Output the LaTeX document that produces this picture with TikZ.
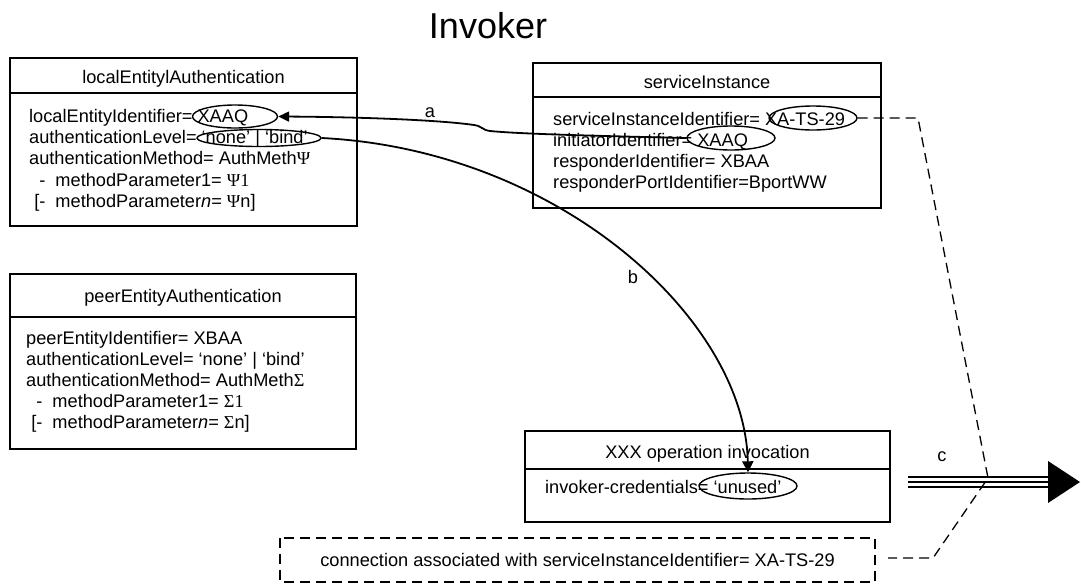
\documentclass[tikz,border=0pt]{standalone}
\usepackage{fontspec}
\setmainfont{Liberation Sans}
\newfontfamily\symfont{Liberation Serif}
\usetikzlibrary{arrows.meta,shapes.geometric}
\begin{document}
\begin{tikzpicture}[x=1pt,y=-1pt,
  txt/.style={anchor=base west,inner sep=0pt,font=\fontsize{18.2}{21.3}\selectfont},
  ttl/.style={anchor=base,inner sep=0pt,font=\fontsize{18.2}{21.3}\selectfont},
  boxline/.style={draw=black,line width=1.8pt},
  oval/.style={draw=black,line width=1.4pt,ellipse,inner sep=0pt},
  conn/.style={draw=black,line width=1.8pt},
  dashln/.style={draw=black,line width=1.3pt,dash pattern=on 10pt off 6pt},
  lbl/.style={inner sep=0pt,font=\fontsize{18.2}{21.3}\selectfont}
]
\useasboundingbox (0,0) rectangle (1081,584);
\fill[white] (0,0) rectangle (1081,584);

% title
\node[anchor=base,inner sep=0pt,font=\fontsize{36}{40}\selectfont] (title) at (488,38) {Invoker};

% box 1: localEntitylAuthentication
\draw[boxline] (10,58) rectangle (357,226);
\draw[boxline] (10,93) -- (357,93);
\node[ttl] (t1) at (183.5,83) {localEntitylAuthentication};
\node[txt] (l1a) at (29,122) {localEntityIdentifier= XAAQ};
\node[txt] (l1b) at (29,143) {authenticationLevel= ‘none’ | ‘bind’};
\node[txt] (l1c) at (29,164) {authenticationMethod= AuthMeth{\symfont Ψ}};
\node[txt] (l1d) at (29,186) {\ \ -\ \ methodParameter1= {\symfont Ψ1}};
\node[txt] (l1e) at (29,207) {\ [-\ \ methodParameter\textit{n}= {\symfont Ψ}n]};

% box 2: serviceInstance
\draw[boxline] (533,63) rectangle (881,208);
\draw[boxline] (533,97) -- (881,97);
\node[ttl] (t2) at (707,88) {serviceInstance};
\node[txt] (l2a) at (553,125) {serviceInstanceIdentifier= XA-TS-29};
\node[txt] (l2b) at (553,146) {initiatorIdentifier= XAAQ};
\node[txt] (l2c) at (553,167) {responderIdentifier= XBAA};
\node[txt] (l2d) at (553,188) {responderPortIdentifier=BportWW};

% box 3: peerEntityAuthentication
\draw[boxline] (10,274) rectangle (356,449);
\draw[boxline] (10,317) -- (356,317);
\node[ttl] (t3) at (183,302) {peerEntityAuthentication};
\node[txt] (l3a) at (26,344) {peerEntityIdentifier= XBAA};
\node[txt] (l3b) at (26,365) {authenticationLevel= ‘none’ | ‘bind’};
\node[txt] (l3c) at (26,386) {authenticationMethod= AuthMeth{\symfont Σ}};
\node[txt] (l3d) at (26,407) {\ \ -\ \ methodParameter1= {\symfont Σ1}};
\node[txt] (l3e) at (26,428) {\ [-\ \ methodParameter\textit{n}= {\symfont Σ}n]};

% box 4: XXX operation invocation
\draw[boxline] (525,431) rectangle (890,522);
\draw[boxline] (525,469) -- (890,469);
\node[ttl] (t4) at (707.5,458) {XXX operation invocation};
\node[txt] (l4a) at (545,493) {invoker-credentials= ‘unused’};

% dashed box
\draw[dashln] (280,538) rectangle (875,582);
\node[lbl] (dbox) at (577.5,560) {connection associated with serviceInstanceIdentifier= XA-TS-29};

% ellipses
\node[oval,minimum width=85pt,minimum height=23pt] (e1) at (235,116.5) {};
\node[oval,minimum width=124pt,minimum height=17pt] (e2) at (259,138) {};
\node[oval,minimum width=88pt,minimum height=24pt] (e3) at (813,118) {};
\node[oval,minimum width=88pt,minimum height=24pt] (e4) at (731,138) {};
\node[oval,minimum width=98pt,minimum height=26pt] (e5) at (748,486) {};

% connector a
\coordinate (a1) at (490,131);
\coordinate (a2) at (474,125);
\draw[conn,-{Triangle[length=11pt,width=10pt]}] (e4.west) .. controls (600,136) and (520,134) .. (a1)
  .. controls (482,130) and (482,126) .. (a2)
  .. controls (440,120) and (360,117) .. (e1.east);
\node[lbl] (la) at (430,113) {a};

% connector b
\draw[conn,-{Triangle[length=11pt,width=11pt]}] (e2.east) .. controls (560,150) and (745,320) .. (e5.north);
\node[lbl] (lb) at (633,277) {b};

% dashed connector from XA-TS-29 to dashed box
\coordinate (d1) at (918,118);
\coordinate (d2) at (988,478);
\coordinate (d3) at (933,558);
\coordinate (d4) at (888,558);
\draw[dashln] (e3.east) -- (d1) -- (d2) -- (d3) -- (d4);

% arrow c
\coordinate (c1) at (908,482);
\coordinate (c2) at (1048,482);
\coordinate (c3) at (1080,482);
\draw[line width=1.8pt] ([yshift=-5pt]c1) -- ([yshift=-5pt]c2);
\draw[line width=1.8pt] (c1) -- (c2);
\draw[line width=1.8pt] ([yshift=5pt]c1) -- ([yshift=5pt]c2);
\fill[black] ([yshift=-21pt]c2) -- (c3) -- ([yshift=21pt]c2) -- cycle;
\node[lbl] (lc) at (942,457) {c};
\end{tikzpicture}
\end{document}
